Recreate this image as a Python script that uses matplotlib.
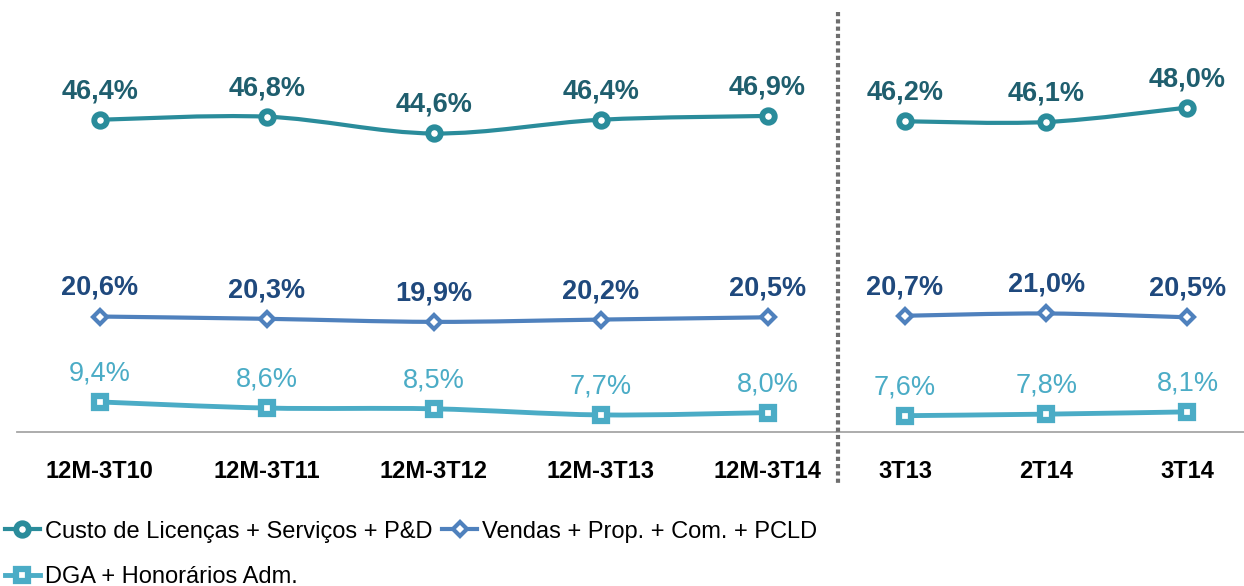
import matplotlib
matplotlib.use("Agg")
import matplotlib.pyplot as plt
from matplotlib.path import Path
from matplotlib.patches import PathPatch
from matplotlib.lines import Line2D

plt.rcParams['font.family'] = ['Liberation Sans', 'DejaVu Sans']

# Data
cat_12m = ["12M-3T10", "12M-3T11", "12M-3T12", "12M-3T13", "12M-3T14"]
cat_tri = ["3T13", "2T14", "3T14"]
custo_12m = [46.4, 46.8, 44.6, 46.4, 46.9]
custo_tri = [46.2, 46.1, 48.0]
vendas_12m = [20.6, 20.3, 19.9, 20.2, 20.5]
vendas_tri = [20.7, 21.0, 20.5]
dga_12m = [9.4, 8.6, 8.5, 7.7, 8.0]
dga_tri = [7.6, 7.8, 8.1]
series_names = ["Custo de Licenças + Serviços + P&D",
                "Vendas + Prop. + Com. + PCLD",
                "DGA + Honorários Adm."]

# style per series
styles = [
    dict(color="#2A8C9B", lab="#1F5E6E", marker="o", ms=9, mew=4.2, weight="bold", lw=3.0),
    dict(color="#4F81BD", lab="#1F497D", marker="D", ms=7.5, mew=3.0, weight="bold", lw=3.0),
    dict(color="#4BACC6", lab="#4BACC6", marker="s", ms=9, mew=4.5, weight="normal", lw=3.5),
]


def smooth_path(xs, ys):
    pts = list(zip(xs, ys))
    n = len(pts)
    verts = [pts[0]]
    codes = [Path.MOVETO]
    for i in range(n - 1):
        p0 = pts[max(i - 1, 0)]
        p1 = pts[i]
        p2 = pts[i + 1]
        p3 = pts[min(i + 2, n - 1)]
        c1 = (p1[0] + (p2[0] - p0[0]) / 6, p1[1] + (p2[1] - p0[1]) / 6)
        c2 = (p2[0] - (p3[0] - p1[0]) / 6, p2[1] - (p3[1] - p1[1]) / 6)
        verts += [c1, c2, p2]
        codes += [Path.CURVE4] * 3
    return Path(verts, codes)


W, H = 1244, 586
fig = plt.figure(figsize=(W / 100, H / 100), dpi=100)
bottom = (H - 432) / H
axL = fig.add_axes([17 / W, bottom, (836 - 17) / W, 1 - bottom])
axR = fig.add_axes([836 / W, bottom, (1244 - 836) / W, 1 - bottom])


def draw(ax, cats, data, xlim):
    xs = list(range(len(cats)))
    for vals, st in zip(data, styles):
        ax.add_patch(PathPatch(smooth_path(xs, vals), facecolor="none",
                               edgecolor=st["color"], lw=st["lw"], zorder=2))
        ax.plot(xs, vals, ls="none", marker=st["marker"], ms=st["ms"],
                mfc="white", mec=st["color"], mew=st["mew"], zorder=3)
        for x, v in zip(xs, vals):
            ax.annotate(f"{v:.1f}%".replace(".", ","), (x, v), xytext=(0, 15.5),
                        textcoords="offset points", ha="center", va="baseline",
                        fontsize=19.5, color=st["lab"], fontweight=st["weight"])
    ax.set_xlim(*xlim)
    ax.set_ylim(5.46, 62.1)
    ax.set_xticks(xs)
    ax.set_xticklabels(cats, fontsize=17, fontweight="bold")
    ax.tick_params(axis="x", length=0, pad=20)
    ax.set_yticks([])
    for s in ["top", "left", "right"]:
        ax.spines[s].set_visible(False)
    ax.spines["bottom"].set_color("#A6A6A6")
    ax.spines["bottom"].set_linewidth(1.3)
    ax.patch.set_alpha(0)


draw(axL, cat_12m, [custo_12m, vendas_12m, dga_12m], (-0.496, 4.41))
draw(axR, cat_tri, [custo_tri, vendas_tri, dga_tri], (-0.488, 2.40))

# dotted separator between the two groups
fig.add_artist(Line2D([838 / W, 838 / W], [1 - 12 / H, 1 - 484 / H], color="#6E6E6E",
                      lw=3, linestyle=(0, (1, 0.75)), transform=fig.transFigure))

handles = [Line2D([], [], color=st["color"], lw=st["lw"], marker=st["marker"], ms=st["ms"],
                  mfc="white", mec=st["color"], mew=st["mew"]) for st in styles]
# column-major fill: put DGA second so it lands on the second row
order = [0, 2, 1]
fig.legend([handles[i] for i in order], [series_names[i] for i in order], ncol=2,
           loc="upper left", bbox_to_anchor=(0.0, 1 - 516 / H),
           frameon=False, fontsize=17, handlelength=1.5, handletextpad=0.2,
           columnspacing=0.4, labelspacing=1.0, borderaxespad=0, borderpad=0.2)

fig.savefig("out.png", dpi=100)
